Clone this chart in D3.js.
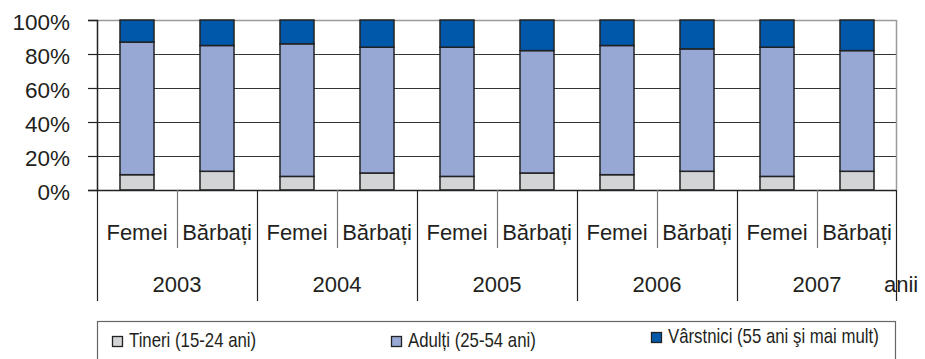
<!DOCTYPE html>
<html>
<head>
<meta charset="utf-8">
<script src="https://cdn.jsdelivr.net/npm/d3@7/dist/d3.min.js"></script>
<style>
  html, body { margin: 0; padding: 0; background: #fff; }
  svg { display: block; }
  text { fill: #231f20; }
</style>
</head>
<body>
<svg id="chart" width="925" height="359"></svg>
<script>
// Structura populației ocupate pe grupe de vârstă, sex și ani (%)
const years = ["2003", "2004", "2005", "2006", "2007"];
const sexes = ["Femei", "Bărbați"];
const tineri    = [9, 11, 8, 10, 8, 10, 9, 11, 8, 11];
const adulti    = [78, 74, 78, 74, 76, 72, 76, 72, 76, 71];
const varstnici = [13, 15, 14, 16, 16, 18, 15, 17, 16, 18];
const yTicks = [0, 20, 40, 60, 80, 100];
const seriesNames = ["Tineri (15-24 ani)", "Adulți (25-54 ani)", "Vârstnici (55 ani şi mai mult)"];
const seriesKeys = ["tineri", "adulti", "varstnici"];
const colors = ["#d3d4d6", "#97a8d5", "#0058aa"];

const rows = [];
years.forEach((yr, yi) => sexes.forEach((s, si) => {
  const i = yi * sexes.length + si;
  rows.push({ id: yr + "-" + s, year: yr, sex: s, tineri: tineri[i], adulti: adulti[i], varstnici: varstnici[i] });
}));

const svg = d3.select("#chart");
const plotLeft = 97, plotRight = 897, plotTop = 20, plotBottom = 190;
const font = "'Liberation Sans', Arial, sans-serif";

const x = d3.scaleBand().domain(rows.map(d => d.id)).range([plotLeft, plotRight])
  .paddingInner(0.575).paddingOuter(0.2875);
const step = x.step();
const catStart = id => x(id) - step * x.paddingInner() / 2;
const y = d3.scaleLinear().domain([0, 100]).range([plotBottom, plotTop]);

// gridlines
svg.append("g").selectAll("line").data(yTicks.filter(t => t > 0 && t < 100)).join("line")
  .attr("x1", plotLeft).attr("x2", plotRight - 1)
  .attr("y1", d => y(d) + 0.5).attr("y2", d => y(d) + 0.5)
  .attr("stroke", "#333").attr("stroke-width", 1.2);

// plot border (top and right)
svg.append("path")
  .attr("d", `M${plotLeft},${y(100) + 0.5}H${plotRight - 0.5}V${plotBottom}`)
  .attr("fill", "none").attr("stroke", "#9a9a9a").attr("stroke-width", 1.5);

// stacked bars
const stack = d3.stack().keys(seriesKeys)(rows);
svg.append("g").selectAll("g").data(stack).join("g")
  .attr("fill", (d, i) => colors[i])
  .selectAll("rect").data(d => d).join("rect")
  .attr("x", d => x(d.data.id))
  .attr("width", x.bandwidth())
  .attr("y", d => y(d[1]))
  .attr("height", d => y(d[0]) - y(d[1]))
  .attr("stroke", "#222").attr("stroke-width", 1.5);

// y axis
const yAxis = d3.axisLeft(y).tickValues(yTicks).tickSize(9).tickPadding(18).tickFormat(d => d + "%");
const yg = svg.append("g").attr("transform", `translate(${plotLeft},0)`).call(yAxis);
yg.select(".domain").attr("stroke", "#222").attr("stroke-width", 1.5);
yg.selectAll(".tick line").attr("stroke", "#222").attr("stroke-width", 1.2);
yg.selectAll(".tick text").attr("font-family", font).attr("font-size", 22.5)
  .attr("fill", "#231f20").attr("dy", "0.42em");

// x axis base line
svg.append("line").attr("x1", plotLeft).attr("x2", plotRight - 1)
  .attr("y1", plotBottom + 0.5).attr("y2", plotBottom + 0.5)
  .attr("stroke", "#222").attr("stroke-width", 1.5);

// category separators
const seps = rows.map(d => catStart(d.id)).concat([plotRight - 1]);
svg.append("g").selectAll("line").data(seps).join("line")
  .attr("x1", d => Math.round(d) + 0.5).attr("x2", d => Math.round(d) + 0.5)
  .attr("y1", plotBottom)
  .attr("y2", (d, i) => i % 2 === 0 ? 301 : 248)
  .attr("stroke", (d, i) => i % 2 === 0 ? "#222" : "#777")
  .attr("stroke-width", 1.2);

// sex labels
svg.append("g").selectAll("text").data(rows).join("text")
  .attr("x", d => x(d.id) + x.bandwidth() / 2)
  .attr("y", 240)
  .attr("text-anchor", "middle")
  .attr("font-family", font).attr("font-size", 22)
  .text(d => d.sex);

// year labels
svg.append("g").selectAll("text").data(years).join("text")
  .attr("x", d => catStart(d + "-" + sexes[0]) + step)
  .attr("y", 292)
  .attr("text-anchor", "middle")
  .attr("font-family", font).attr("font-size", 22)
  .text(d => d);

svg.append("text").attr("x", 884).attr("y", 292)
  .attr("font-family", font).attr("font-size", 22).text("anii");

// legend (condensed text)
const lg = svg.append("g");
lg.append("rect").attr("x", 97.5).attr("y", 321.5).attr("width", 798).attr("height", 60)
  .attr("fill", "none").attr("stroke", "#666").attr("stroke-width", 1.2);
const legendPos = [
  { sx: 112, tx: 129, base: 347 },
  { sx: 391, tx: 408, base: 347 },
  { sx: 651, tx: 668, base: 343 }
];
seriesNames.forEach((name, i) => {
  const p = legendPos[i];
  lg.append("rect").attr("x", p.sx + 0.5).attr("y", p.base - 10.5)
    .attr("width", 10).attr("height", 10)
    .attr("fill", colors[i]).attr("stroke", "#222").attr("stroke-width", 1.3);
  lg.append("text").attr("transform", `translate(${p.tx},${p.base}) scale(0.84,1)`)
    .attr("font-family", font)
    .attr("font-size", 20).text(name);
});
</script>
</body>
</html>
